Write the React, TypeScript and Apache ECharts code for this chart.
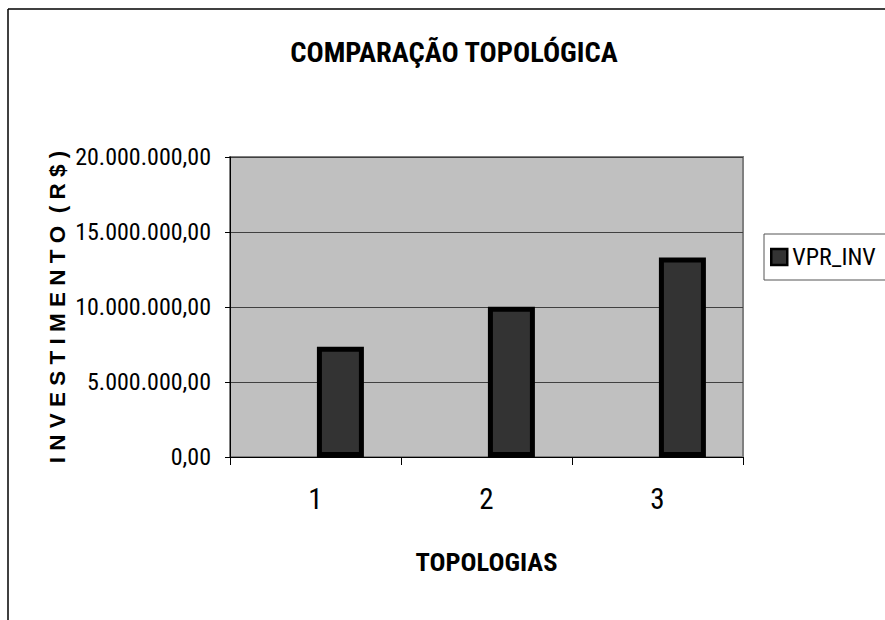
import React, { useEffect, useRef } from "react";
import * as echarts from "echarts";

const categories = ["1", "2", "3"];
const vprInv = [7350000, 10010000, 13300000];
const spacer = [null, null, null];
const yMin = 0;
const yMax = 20000000;
const yInterval = 5000000;

const NARROW = "'Roboto Condensed', 'Liberation Sans Narrow', 'Arial Narrow', sans-serif";
const REGULAR = "'Liberation Sans', Arial, sans-serif";

function fmtBR(v: number): string {
  const fixed = v.toFixed(2);
  const [i, d] = fixed.split(".");
  return i.replace(/\B(?=(\d{3})+(?!\d))/g, ".") + "," + d;
}

export default function App() {
  const ref = useRef<HTMLDivElement>(null);
  useEffect(() => {
    if (!ref.current) return;
    const chart = echarts.init(ref.current, null, { renderer: "svg" });
    chart.setOption({
      animation: false,
      backgroundColor: "#ffffff",
      title: {
        text: "COMPARAÇÃO TOPOLÓGICA",
        left: 454,
        top: 38,
        padding: 0,
        textAlign: "center",
        textStyle: { fontFamily: NARROW, fontWeight: "bold", fontSize: 28.5, color: "#000" },
      },
      graphic: [
        { type: "line", shape: { x1: 8, y1: 9, x2: 885, y2: 9 }, style: { stroke: "#000", lineWidth: 1.5 } },
        { type: "line", shape: { x1: 8, y1: 9, x2: 8, y2: 620 }, style: { stroke: "#000", lineWidth: 1.5 } },
      ],
      legend: {
        data: ["VPR_INV"],
        left: 764,
        top: 234,
        orient: "vertical",
        padding: [11, 40, 11, 6],
        borderColor: "#555",
        borderWidth: 1,
        backgroundColor: "#fff",
        itemWidth: 16,
        itemHeight: 16,
        icon: "rect",
        itemStyle: { color: "#333333", borderColor: "#000", borderWidth: 2.5 },
        textStyle: { fontFamily: NARROW, fontSize: 24, color: "#000" },
      },
      grid: {
        left: 230,
        top: 157,
        width: 513,
        height: 300,
        show: true,
        backgroundColor: "#c0c0c0",
        borderColor: "#808080",
        borderWidth: 2,
      },
      xAxis: {
        type: "category",
        data: categories,
        name: "TOPOLOGIAS",
        nameLocation: "middle",
        nameGap: 91,
        nameMoveOverlap: false,
        nameTextStyle: { fontFamily: NARROW, fontWeight: "bold", fontSize: 26.5, color: "#000" },
        axisLine: { show: true, lineStyle: { color: "#000", width: 1 } },
        axisTick: { show: true, length: 8, lineStyle: { color: "#000" } },
        axisLabel: { margin: 27, fontFamily: NARROW, fontSize: 29, color: "#000" },
        splitLine: { show: false },
      },
      yAxis: {
        type: "value",
        min: yMin,
        max: yMax,
        interval: yInterval,
        name: "I N V E S T I M E N T O  ( R $ )",
        nameLocation: "middle",
        nameGap: 161,
        nameMoveOverlap: false,
        nameTextStyle: { fontFamily: REGULAR, fontWeight: "bold", fontSize: 22.5, color: "#000" },
        axisLine: { show: true, lineStyle: { color: "#000", width: 1 } },
        axisTick: { show: true, length: 5, lineStyle: { color: "#000" } },
        axisLabel: { margin: 19, fontFamily: NARROW, fontSize: 24, color: "#000", formatter: (v: number) => fmtBR(v) },
        splitLine: { show: true, lineStyle: { color: "#404040", width: 1 } },
      },
      series: [
        { type: "bar", name: "spacer", data: spacer, barWidth: 47, barGap: "6%", silent: true },
        {
          type: "bar",
          name: "VPR_INV",
          data: vprInv,
          barWidth: 47,
          barGap: "6%",
          itemStyle: { color: "#333333", borderColor: "#000", borderWidth: 5 },
        },
      ],
    });
    return () => chart.dispose();
  }, []);
  return (
    <div
      ref={ref}
      style={{ position: "fixed", left: 0, top: 0, width: 885, height: 620, background: "#fff" }}
    />
  );
}
